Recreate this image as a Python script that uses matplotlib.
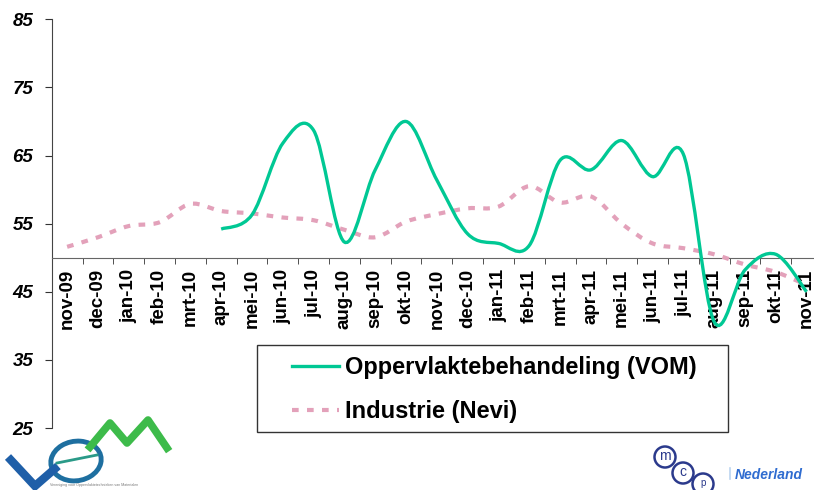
import numpy as np
import matplotlib.pyplot as plt
from matplotlib.path import Path
from matplotlib.patches import PathPatch, Rectangle, Ellipse
from matplotlib.lines import Line2D

plt.rcParams['font.family'] = ['Liberation Sans', 'DejaVu Sans']

months = ['nov-09', 'dec-09', 'jan-10', 'feb-10', 'mrt-10', 'apr-10', 'mei-10',
          'jun-10', 'jul-10', 'aug-10', 'sep-10', 'okt-10', 'nov-10', 'dec-10',
          'jan-11', 'feb-11', 'mrt-11', 'apr-11', 'mei-11', 'jun-11', 'jul-11',
          'aug-11', 'sep-11', 'okt-11', 'nov-11']
# VOM series starts at apr-10
vom_months = months[5:]
vom = [54.2, 56.3, 66.8, 68.7, 52.3, 62.9, 70.0, 61.4, 53.5, 52.1,
       51.8, 64.3, 62.9, 67.2, 61.9, 65.2, 40.6, 48.2, 50.5, 45.0]
nevi = [51.6, 53.0, 54.65, 55.2, 57.9, 56.85, 56.5, 55.9, 55.5, 54.1,
        53.0, 55.3, 56.4, 57.25, 57.5, 60.5, 58.1, 59.0, 55.0, 52.1,
        51.4, 50.5, 49.0, 47.9, 46.0]
yticks = [25, 35, 45, 55, 65, 75, 85]

green = '#00C894'
pink = '#E3A1BA'
W, H = 814, 490


def smooth_path(x, y):
    # excel-like smoothed line: cubic bezier through every point
    pts = np.column_stack([x, y]).astype(float)
    n = len(pts)
    verts = [pts[0]]
    codes = [Path.MOVETO]
    for i in range(n - 1):
        p0 = pts[i - 1] if i > 0 else pts[i]
        p1, p2 = pts[i], pts[i + 1]
        p3 = pts[i + 2] if i + 2 < n else pts[i + 1]
        verts += [p1 + (p2 - p0) / 6, p2 - (p3 - p1) / 6, p2]
        codes += [Path.CURVE4] * 3
    return Path(verts, codes)


def fx(px):
    return px / W


def fy(py):
    return 1 - py / H


fig = plt.figure(figsize=(W / 100, H / 100), dpi=100)
ax = fig.add_axes([fx(51.7), fy(428), 770.3 / W, 408.7 / H])
ax.set_xlim(-0.5, len(months) - 0.5)
ax.set_ylim(25, 85)

xpos = np.arange(len(months))
xv = np.array([months.index(m) for m in vom_months])
ax.add_patch(PathPatch(smooth_path(xpos, nevi), fill=False, edgecolor=pink,
                       lw=3, linestyle=(0, (1.6, 2.0)), capstyle='butt', zorder=3))
ax.add_patch(PathPatch(smooth_path(xv, vom), fill=False, edgecolor=green,
                       lw=2.4, zorder=4))

for s in ['top', 'right']:
    ax.spines[s].set_visible(False)
ax.spines['bottom'].set_position(('data', 50))
ax.spines['left'].set_color('#444444')
ax.spines['bottom'].set_color('#666666')

ax.set_xticks(xpos)
ax.set_xticklabels(months, rotation=90, fontweight='bold', fontsize=13.5, va='top')
ax.set_xticks(np.arange(-0.5, len(months) - 0.5, 1), minor=True)
ax.tick_params(axis='x', which='major', length=0, pad=8)
ax.tick_params(axis='x', which='minor', length=4.5, direction='out', color='#333333')
ax.set_yticks(yticks)
ax.set_yticklabels([str(v) for v in yticks], fontweight='bold', style='italic', fontsize=13.5)
ax.tick_params(axis='y', length=4.8, pad=8.4, color='#333333')

# legend box + entries
fig.patches.append(Rectangle((fx(257), fy(432)), 471 / W, 87 / H, transform=fig.transFigure,
                             fill=False, edgecolor='#333333', lw=1))
handles = [Line2D([], [], color=green, lw=2.4),
           Line2D([], [], color=pink, lw=3, linestyle=(0, (1.6, 2.0)))]
fig.legend(handles, ['Oppervlaktebehandeling (VOM)', 'Industrie (Nevi)'],
           loc='upper left', bbox_to_anchor=(fx(292), fy(356)), frameon=False,
           prop={'weight': 'bold', 'size': 17}, handlelength=2.0, handletextpad=0.25,
           borderpad=0, borderaxespad=0, labelspacing=0.88)

# VOM logo (rough)
fig.lines.append(Line2D([fx(8), fx(35), fx(58)], [fy(457), fy(486), fy(466)],
                        transform=fig.transFigure, color='#1F5FA8', lw=6,
                        solid_capstyle='butt', solid_joinstyle='miter'))
fig.patches.append(Ellipse((fx(76), fy(461)), 50 / W, 40 / H, angle=-8,
                           transform=fig.transFigure, fill=False, edgecolor='#1E6FA0', lw=3.5))
fig.lines.append(Line2D([fx(57), fx(97)], [fy(463), fy(455)], transform=fig.transFigure,
                        color='#2A9A88', lw=2))
fig.lines.append(Line2D([fx(90), fx(110), fx(127), fx(148), fx(167)],
                        [fy(447), fy(423), fy(443), fy(420), fy(448)],
                        transform=fig.transFigure, color='#3DBB4A', lw=5.5))
fig.text(fx(50), fy(485), 'Vereniging voor Oppervlaktetechnieken van Materialen',
         fontsize=2.6, color='#777777', va='center')

# mcp Nederland logo (rough)
for (cx, cy), ch in zip([(665, 457), (683, 473), (703, 484)], ['m', 'c', 'p']):
    fig.patches.append(Ellipse((fx(cx), fy(cy)), 21 / W, 21 / H, transform=fig.transFigure,
                               fill=False, edgecolor='#2B3A8C', lw=1.8))
    fig.text(fx(cx), fy(cy - 1), ch, fontsize=10 if ch != 'p' else 7, color='#2B3A8C',
             ha='center', va='center')
fig.lines.append(Line2D([fx(730), fx(730)], [fy(468), fy(479)], transform=fig.transFigure,
                        color='#BBD4F0', lw=1.2))
fig.text(fx(735), fy(475), 'Nederland', fontsize=10, color='#2F6CD0', fontweight='bold',
         style='italic', va='center')

fig.savefig('out.png', dpi=100)
